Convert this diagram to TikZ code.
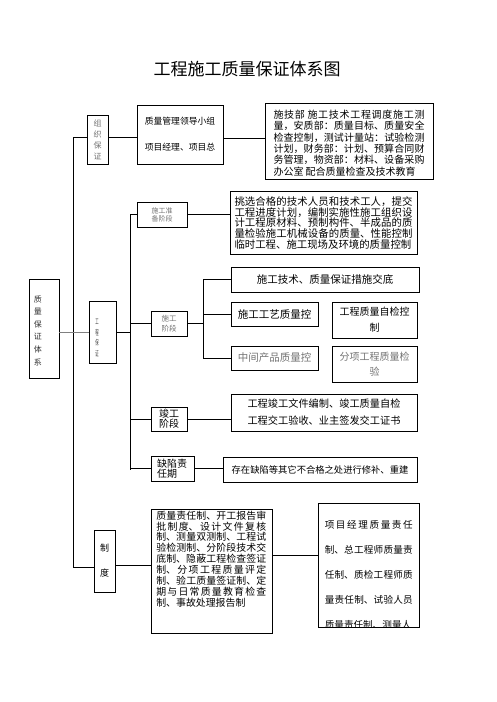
\documentclass[tikz,border=0pt]{standalone}
\usepackage{fontspec}
\setmainfont{Noto Sans CJK SC}
\XeTeXlinebreaklocale "zh"
\XeTeXlinebreakskip=0pt plus 2pt
\newcommand\fsz[2]{\fontsize{#1}{#2}\selectfont}
\begin{document}
\begin{tikzpicture}[x=1pt,y=-1pt,
    box/.style={draw,line width=0.8pt,inner sep=0pt,align=center},
    link/.style={line width=0.8pt},
    dim/.style={text=black!55},
    para/.style={inner sep=0pt,align=justify}]
  \useasboundingbox (0,0) rectangle (496,702);
  \node[font=\fsz{17}{17}] (title) at (247,69) {工程施工质量保证体系图};
  \coordinate (trunk) at (73,0);
  \coordinate (inner) at (130,0);
  \coordinate (sub) at (203,0);

  \node[box,minimum width=30,minimum height=99] (sys) at (44,328.5) {};
  \node[inner sep=0pt,align=center,font=\fsz{8}{12.6},text=black!80] (systxt) at (38,330.5) {质\\量\\保\\证\\体\\系};
  \node[box,dim,minimum width=21,minimum height=49,font=\fsz{8}{11}] (org) at (97.5,139.5) {组\\织\\保\\证};
  \node[box,minimum width=27,minimum height=62] (gc) at (102.5,332) {};
  \node[inner sep=0pt,align=center,text=black!75,font=\fsz{7.5}{10.5},xscale=0.45,transform shape] (gctxt) at (97,338) {工\\程\\保\\证};
  \node[box,minimum width=21,minimum height=62,font=\fsz{9}{25}] (zhidu) at (104.5,561) {制\\度};

  \node[box,minimum width=86,minimum height=59,font=\fsz{8.8}{26}] (qm) at (180,134.5) {质量管理领导小组\\项目经理、项目总};
  \node[box,minimum width=168,minimum height=76] (sjb) at (349,141) {};
  \node[para,text width=151pt,font=\fsz{10}{11.4}] (sjbtxt) at (349,143) {施技部 施工技术工程调度施工测\linebreak
    量，安质部：质量目标、质量安全\linebreak
    检查控制，测试计量站：试验检测\linebreak
    计划，财务部：计划、预算合同财\linebreak
    务管理，物资部：材料、设备采购\linebreak
    办公室 配合质量检查及技术教育};

  \node[box,dim,minimum width=50,minimum height=25,font=\fsz{7}{8}] (prep) at (162,214.5) {施工准\\备阶段};
  \node[box,minimum width=187,minimum height=63] (tiao) at (323.5,222.5) {};
  \node[para,text width=178pt,font=\fsz{10.4}{10.8}] (tiaotxt) at (323.5,223) {挑选合格的技术人员和技术工人，提交\linebreak
    工程进度计划，编制实施性施工组织设\linebreak
    计工程原材料、预制构件、半成品的质\linebreak
    量检验施工机械设备的质量、性能控制\linebreak
    临时工程、施工现场及环境的质量控制};

  \node[box,dim,minimum width=36,minimum height=25,font=\fsz{7.5}{10}] (stage) at (169,323.5) {施工\\阶段};
  \node[box,minimum width=188,minimum height=25,font=\fsz{10.5}{12}] (js) at (325,279.5) {施工技术、质量保证措施交底};
  \node[box,minimum width=87,minimum height=24,font=\fsz{10.5}{12}] (gy) at (274.5,314) {施工工艺质量控};
  \node[box,minimum width=85,minimum height=36,font=\fsz{10}{16}] (zj) at (374.5,320) {工程质量自检控\\制};
  \node[box,dim,minimum width=87,minimum height=24,font=\fsz{10.5}{12}] (zc) at (274.5,358) {中间产品质量控};
  \node[box,dim,minimum width=85,minimum height=36,font=\fsz{10}{15}] (fx) at (374.5,364) {分项工程质量检\\验};

  \node[box,minimum width=36,minimum height=24,font=\fsz{10}{10}] (jg) at (169,419) {竣工\\阶段};
  \node[box,minimum width=186,minimum height=37,font=\fsz{10.2}{17}] (jgw) at (324,412.5) {工程竣工文件编制、竣工质量自检\\工程交工验收、业主签发交工证书};
  \node[box,minimum width=43,minimum height=25,text width=31pt,align=left,font=\fsz{10}{9.5}] (qx) at (172.5,468.5) {缺陷责\\任期};
  \node[box,minimum width=194,minimum height=25,font=\fsz{9.3}{11}] (cz) at (320,469.5) {存在缺陷等其它不合格之处进行修补、重建};

  \node[box,minimum width=121,minimum height=124] (resp) at (211.5,571) {};
  \node[para,anchor=north west,text width=110pt,font=\fsz{9.9}{10.9}] (resptxt) at ([xshift=5.5pt,yshift=-2pt]resp.north west) {质量责任制、开工报告审\linebreak
    批制度、设计文件复核\linebreak
    制、测量双测制、工程试\linebreak
    验检测制、分阶段技术交\linebreak
    底制、隐蔽工程检查签证\linebreak
    制、分项工程质量评定\linebreak
    制、验工质量签证制、定\linebreak
    期与日常质量教育检查\linebreak
    制、事故处理报告制};
  \node[box,minimum width=101,minimum height=124] (xm) at (368.5,565) {};
  \begin{scope}
    \clip (xm.north west) rectangle (xm.south east);
    \node[para,anchor=north west,text width=88pt,font=\fsz{9.6}{25}] (xmtxt) at ([xshift=7pt,yshift=-17.5pt]xm.north west) {项目经理质量责任\linebreak
      制、总工程师质量责\linebreak
      任制、质检工程师质\linebreak
      量责任制、试验人员\linebreak
      质量责任制、测量人};
  \end{scope}

  \coordinate (o1) at ([yshift=2.5pt]org.west);
  \coordinate (o2) at ([yshift=2.5pt]org.east);
  \coordinate (q1) at ([yshift=-3.5pt]qm.east);
  \coordinate (z1) at ([yshift=-6pt]zhidu.west);
  \coordinate (z2) at ([yshift=-4pt]zhidu.east);
  \coordinate (r1) at ([yshift=16pt]resp.east);
  \draw[link] (o1) -- (trunk |- o1) -- (trunk |- z1) -- (z1);
  \draw[link] (o2) -- (o2 -| qm.west);
  \draw[link] (q1) -- (q1 -| sjb.west);
  \draw[link,black!50] (sys.east |- gc.west) -- (gc.west);
  \draw[link] (gc.east) -- (inner |- gc.east);
  \draw[link] (prep.west) -- (inner |- prep.west) -- ([yshift=-1.5pt]inner |- qx.west);
  \draw[link] (qx.west) -- (inner |- qx.west);
  \draw[link] (stage.west) -- (inner |- stage.west);
  \draw[link] (jg.west) -- (inner |- jg.west);
  \draw[link] (prep.east) -- (prep.east -| tiao.west);
  \draw[link] (stage.east) -- (sub |- stage.east);
  \draw[link] (js.west) -- (sub |- js.west) -- (sub |- zc.west) -- (zc.west);
  \draw[link] (gy.west) -- (sub |- gy.west);
  \draw[link] (jg.east) -- (jg.east -| jgw.west);
  \draw[link] (qx.east) -- (qx.east -| cz.west);
  \draw[link] (z2) -- (z2 -| resp.west);
  \draw[link] (r1) -- (r1 -| xm.west);
\end{tikzpicture}
\end{document}
